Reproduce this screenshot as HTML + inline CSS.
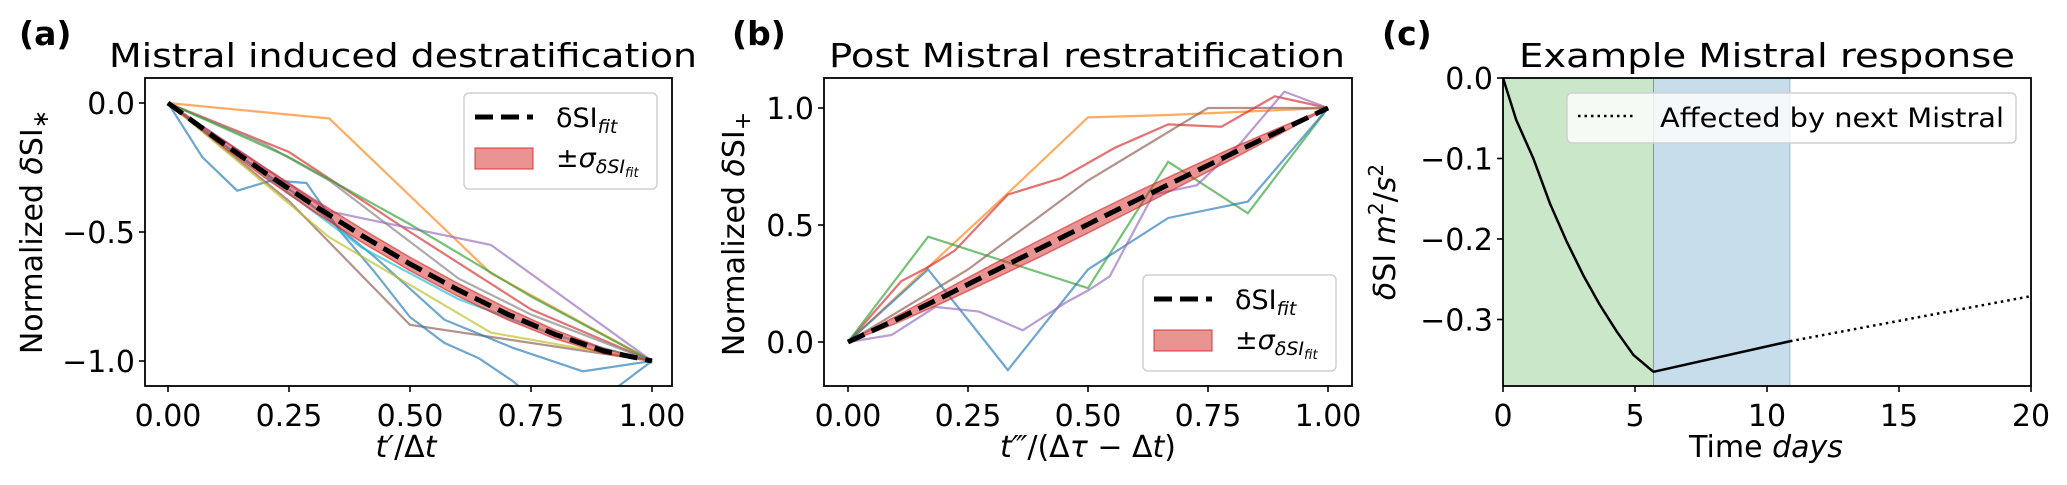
<!DOCTYPE html>
<html><head><meta charset="utf-8"><style>
html,body{margin:0;padding:0;background:#fff;}
svg{display:block;font-family:"DejaVu Sans","Liberation Sans",sans-serif;}
</style></head><body>
<svg id="fig" width="2067" height="485" viewBox="0 0 2067 485" xmlns="http://www.w3.org/2000/svg">
<defs>
<clipPath id="clipA"><rect x="145" y="78" width="527" height="308"/></clipPath>
<clipPath id="clipB"><rect x="824" y="78" width="528" height="308"/></clipPath>
<clipPath id="clipC"><rect x="1503" y="78" width="528" height="308"/></clipPath>
</defs>
<g id="pa"></g>
<g id="pb"></g>
<g id="pc"></g>
</svg>
<script>
// ---- Panel (a) data ----
const aTicksX = [0, 0.25, 0.5, 0.75, 1.0];
const aTickLabelsX = ["0.00", "0.25", "0.50", "0.75", "1.00"];
const aTicksY = [0, -0.5, -1.0];
const aTickLabelsY = ["0.0", "\u22120.5", "\u22121.0"];
const aFitX = [0, 0.1, 0.2, 0.3, 0.4, 0.5, 0.6, 0.7, 0.8, 0.9, 1.0];
const aFitY = [0, -0.138, -0.270, -0.395, -0.513, -0.624, -0.725, -0.817, -0.897, -0.961, -1.0];
const aFitSigma = [0, 0.012, 0.02, 0.024, 0.026, 0.026, 0.025, 0.022, 0.017, 0.01, 0];
const aSeriesColors = ["#ff7f0e", "#d62728", "#8c564b", "#7f7f7f", "#2ca02c", "#9467bd", "#1f77b4", "#1f77b4", "#bcbd22", "#17becf"];
const aSeriesX = [
  [0, 0.333, 0.667, 1],
  [0, 0.25, 0.5, 0.75, 1],
  [0, 0.25, 0.5, 1],
  [0, 0.2, 0.333, 0.6, 0.75, 1],
  [0, 0.25, 0.5, 0.75, 1],
  [0, 0.333, 0.667, 1],
  [0, 0.071, 0.143, 0.214, 0.286, 0.357, 0.429, 0.5, 0.571, 0.643, 0.714, 0.786, 0.857, 0.929, 1],
  [0, 0.143, 0.286, 0.429, 0.571, 0.714, 0.857, 1],
  [0, 0.333, 0.667, 1],
  [0, 0.2, 0.4, 0.6, 0.8, 1]
];
const aSeriesY = [
  [0, -0.06, -0.66, -1],
  [0, -0.19, -0.5, -0.8, -1],
  [0, -0.38, -0.86, -1],
  [0, -0.16, -0.30, -0.68, -0.82, -1],
  [0, -0.21, -0.47, -0.75, -1],
  [0, -0.42, -0.55, -1],
  [0, -0.21, -0.34, -0.30, -0.31, -0.50, -0.66, -0.83, -0.93, -0.99, -1.08, -1.2, -1.22, -1.1, -1],
  [0, -0.20, -0.38, -0.60, -0.84, -0.95, -1.04, -1],
  [0, -0.52, -0.89, -1],
  [0, -0.28, -0.56, -0.76, -0.9, -1]
];

// ---- Panel (b) data ----
const bTicksX = [0, 0.25, 0.5, 0.75, 1.0];
const bTickLabelsX = ["0.00", "0.25", "0.50", "0.75", "1.00"];
const bTicksY = [0, 0.5, 1.0];
const bTickLabelsY = ["0.0", "0.5", "1.0"];
const bFitX = [0, 0.1, 0.2, 0.3, 0.4, 0.5, 0.6, 0.7, 0.8, 0.9, 1.0];
const bFitY = [0, 0.095, 0.195, 0.298, 0.4, 0.503, 0.605, 0.705, 0.805, 0.903, 1.0];
const bFitSigma = [0, 0.015, 0.025, 0.032, 0.036, 0.037, 0.035, 0.03, 0.024, 0.014, 0];
const bSeriesColors = ["#ff7f0e", "#d62728", "#8c564b", "#2ca02c", "#1f77b4", "#9467bd"];
const bSeriesX = [
  [0, 0.167, 0.333, 0.5, 0.667, 0.833, 1],
  [0, 0.111, 0.167, 0.222, 0.333, 0.444, 0.556, 0.667, 0.778, 0.889, 1],
  [0, 0.25, 0.5, 0.75, 1],
  [0, 0.167, 0.5, 0.667, 0.833, 1],
  [0, 0.167, 0.333, 0.5, 0.667, 0.833, 1],
  [0, 0.091, 0.182, 0.273, 0.364, 0.455, 0.5, 0.545, 0.636, 0.727, 0.818, 0.909, 1]
];
const bSeriesY = [
  [0, 0.32, 0.636, 0.96, 0.97, 0.985, 1],
  [0, 0.26, 0.32, 0.39, 0.63, 0.70, 0.83, 0.93, 0.92, 1.05, 1],
  [0, 0.31, 0.69, 1.0, 1],
  [0, 0.45, 0.23, 0.77, 0.55, 1],
  [0, 0.31, -0.12, 0.31, 0.53, 0.60, 1],
  [0, 0.03, 0.15, 0.13, 0.05, 0.17, 0.22, 0.28, 0.63, 0.67, 0.85, 1.07, 1]
];

// ---- Panel (c) data ----
const cTicksX = [0, 5, 10, 15, 20];
const cTickLabelsX = ["0", "5", "10", "15", "20"];
const cTicksY = [0, -0.1, -0.2, -0.3];
const cTickLabelsY = ["0.0", "\u22120.1", "\u22120.2", "\u22120.3"];
const cSolidT = [0, 0.5, 1.15, 1.78, 2.41, 3.04, 3.67, 4.31, 4.94, 5.7, 10.87];
const cSolidV = [0, -0.052, -0.1, -0.156, -0.203, -0.245, -0.282, -0.315, -0.344, -0.365, -0.327];
const cDottedT = [10.87, 20];
const cDottedV = [-0.327, -0.271];
const cSpanGreen = [0, 5.7];
const cSpanBlue = [5.7, 10.87];

// ---- scales ----
const xa = v => 168 + v * 484, ya = v => 103 - v * 258;
const xb = v => 848 + v * 480, yb = v => 342 - v * 234;
const xc = v => 1503 + v * 26.4, yc = v => 78 - v * 805;

const NS = "http://www.w3.org/2000/svg";
function mk(tag, attrs, parent) {
  const e = document.createElementNS(NS, tag);
  for (const k in attrs) e.setAttribute(k, attrs[k]);
  parent.appendChild(e);
  return e;
}
function pts(xs, ys, fx, fy) { return xs.map((x, i) => fx(x).toFixed(2) + "," + fy(ys[i]).toFixed(2)).join(" "); }

function axes(g, L, T, R, B, fx, fy, tx, txl, ty, tyl, name) {
  tx.forEach((t, i) => {
    const X = fx(t);
    const tk = mk("line", {x1: X, x2: X, y1: B, y2: B + 6, stroke: "#000", "stroke-width": 1.6}, g);
    
    
    const lb = mk("text", {x: X, y: B + 40, "font-size": 30, "text-anchor": "middle"}, g);
    lb.textContent = txl[i];
    
    
  });
  ty.forEach((t, i) => {
    const Y = fy(t);
    const tk = mk("line", {x1: L - 6, x2: L, y1: Y, y2: Y, stroke: "#000", "stroke-width": 1.6}, g);
    
    
    const lb = mk("text", {x: L - 10, y: Y + 11, "font-size": 30, "text-anchor": "end"}, g);
    lb.textContent = tyl[i];
    
    
  });
  const fr = mk("rect", {x: L, y: T, width: R - L, height: B - T, fill: "none", stroke: "#000", "stroke-width": 1.8}, g);
  
  
}

function panelFit(g, clip, fx, fy, sx, sy, cols, fitX, fitY, sig, name) {
  const cg = mk("g", {"clip-path": "url(#" + clip + ")"}, g);
  sx.forEach((xs, i) => {
    const pl = mk("polyline", {points: pts(xs, sy[i], fx, fy), fill: "none", stroke: cols[i], "stroke-width": 2.2, "stroke-opacity": 0.65}, cg);
    
    
  });
  const up = fitX.map((x, i) => fx(x).toFixed(2) + "," + fy(fitY[i] + sig[i]).toFixed(2));
  const dn = fitX.map((x, i) => fx(x).toFixed(2) + "," + fy(fitY[i] - sig[i]).toFixed(2)).reverse();
  const band = mk("polygon", {points: up.concat(dn).join(" "), fill: "#d62728", "fill-opacity": 0.5, stroke: "#d62728", "stroke-opacity": 0.6, "stroke-width": 1.5}, cg);
  
  
  const fit = mk("polyline", {points: pts(fitX, fitY, fx, fy), fill: "none", stroke: "#000", "stroke-width": 5, "stroke-dasharray": "18,8"}, cg);
  
  
}

function legendFit(g, x, y, name) {
  const box = mk("rect", {x: x, y: y, width: 193, height: 96, rx: 5, fill: "#fff", "fill-opacity": 0.8, stroke: "#d0d0d0", "stroke-width": 1.5}, g);
  
  
  const l = mk("line", {x1: x + 11, x2: x + 69, y1: y + 24, y2: y + 24, stroke: "#000", "stroke-width": 5, "stroke-dasharray": "18,8"}, g);
  
  
  const t1 = mk("text", {x: x + 92, y: y + 34, "font-size": 27}, g);
  t1.innerHTML = '\u03b4SI<tspan font-size="19" font-style="italic" dy="6">fit</tspan>';
  
  
  const p = mk("rect", {x: x + 11, y: y + 55, width: 58, height: 21, fill: "#d62728", "fill-opacity": 0.5, stroke: "#d62728", "stroke-opacity": 0.6, "stroke-width": 1.5}, g);
  
  
  const t2 = mk("text", {x: x + 92, y: y + 74, "font-size": 27}, g);
  t2.innerHTML = '\u00b1<tspan font-style="italic">\u03c3</tspan><tspan font-size="19" font-style="italic" dy="6">\u03b4SI</tspan><tspan font-size="13" font-style="italic" dy="4">fit</tspan>';
  
  
}

function txt(g, attrs, content, dn, html) {
  const t = mk("text", attrs, g);
  if (html) t.innerHTML = content; else t.textContent = content;
  
  
  return t;
}

// Panel a
const ga = document.getElementById("pa");
panelFit(ga, "clipA", xa, ya, aSeriesX, aSeriesY, aSeriesColors, aFitX, aFitY, aFitSigma, "panel-a");
axes(ga, 145, 78, 672, 386, xa, ya, aTicksX, aTickLabelsX, aTicksY, aTickLabelsY, "panel-a");
legendFit(ga, 464, 93, "panel-a");
txt(ga, {x: 403, y: 67, "font-size": 33, "text-anchor": "middle", textLength: 588, lengthAdjust: "spacingAndGlyphs"}, "Mistral induced destratification", "panel-a-title");
txt(ga, {x: 19, y: 45, "font-size": 33, "font-weight": "bold"}, "(a)", "panel-a-label");
txt(ga, {x: 406, y: 457, "font-size": 30, "text-anchor": "middle", "font-style": "italic"}, 't\u2032<tspan font-style="normal">/\u0394</tspan>t', "panel-a-x-axis-title", true);
txt(ga, {x: 0, y: 0, "font-size": 30, "text-anchor": "middle", transform: "translate(42,232) rotate(-90)"}, 'Normalized <tspan font-style="italic">\u03b4</tspan>SI<tspan font-size="22" dy="6">\u2217</tspan>', "panel-a-y-axis-title", true);

// Panel b
const gb = document.getElementById("pb");
panelFit(gb, "clipB", xb, yb, bSeriesX, bSeriesY, bSeriesColors, bFitX, bFitY, bFitSigma, "panel-b");
axes(gb, 824, 78, 1352, 386, xb, yb, bTicksX, bTickLabelsX, bTicksY, bTickLabelsY, "panel-b");
legendFit(gb, 1143, 275, "panel-b");
txt(gb, {x: 1087, y: 67, "font-size": 33, "text-anchor": "middle", textLength: 516, lengthAdjust: "spacingAndGlyphs"}, "Post Mistral restratification", "panel-b-title");
txt(gb, {x: 732, y: 45, "font-size": 33, "font-weight": "bold"}, "(b)", "panel-b-label");
txt(gb, {x: 1088, y: 457, "font-size": 30, "text-anchor": "middle"}, '<tspan font-style="italic">t\u2034</tspan>/(\u0394<tspan font-style="italic">\u03c4</tspan> \u2212 \u0394<tspan font-style="italic">t</tspan>)', "panel-b-x-axis-title", true);
txt(gb, {x: 0, y: 0, "font-size": 30, "text-anchor": "middle", transform: "translate(744,234) rotate(-90)"}, 'Normalized <tspan font-style="italic">\u03b4</tspan>SI<tspan font-size="22" dy="6">+</tspan>', "panel-b-y-axis-title", true);

// Panel c
const gc = document.getElementById("pc");
const cg = mk("g", {"clip-path": "url(#clipC)"}, gc);
const sg = mk("rect", {x: xc(cSpanGreen[0]), y: 78, width: xc(cSpanGreen[1]) - xc(cSpanGreen[0]), height: 308, fill: "#2ca02c", "fill-opacity": 0.25, stroke: "#2ca02c", "stroke-opacity": 0.4, "stroke-width": 1}, cg);


const sb = mk("rect", {x: xc(cSpanBlue[0]), y: 78, width: xc(cSpanBlue[1]) - xc(cSpanBlue[0]), height: 308, fill: "#1f77b4", "fill-opacity": 0.25, stroke: "#1f77b4", "stroke-opacity": 0.4, "stroke-width": 1}, cg);


const cs = mk("polyline", {points: pts(cSolidT, cSolidV, xc, yc), fill: "none", stroke: "#000", "stroke-width": 2.5, "stroke-linejoin": "round"}, cg);


const cd = mk("polyline", {points: pts(cDottedT, cDottedV, xc, yc), fill: "none", stroke: "#000", "stroke-width": 2.5, "stroke-dasharray": "2.5,4"}, cg);


axes(gc, 1503, 78, 2031, 386, xc, yc, cTicksX, cTickLabelsX, cTicksY, cTickLabelsY, "panel-c");
const lc = mk("rect", {x: 1567, y: 93, width: 449, height: 50, rx: 5, fill: "#fff", "fill-opacity": 0.8, stroke: "#d0d0d0", "stroke-width": 1.5}, gc);


const ls = mk("line", {x1: 1578, x2: 1636, y1: 116, y2: 116, stroke: "#000", "stroke-width": 2.5, "stroke-dasharray": "2.5,4"}, gc);


txt(gc, {x: 1660, y: 127, "font-size": 27, textLength: 344, lengthAdjust: "spacingAndGlyphs"}, "Affected by next Mistral", "panel-c-legend-label");
txt(gc, {x: 1767, y: 67, "font-size": 33, "text-anchor": "middle", textLength: 496, lengthAdjust: "spacingAndGlyphs"}, "Example Mistral response", "panel-c-title");
txt(gc, {x: 1382, y: 45, "font-size": 33, "font-weight": "bold"}, "(c)", "panel-c-label");
txt(gc, {x: 1766, y: 457, "font-size": 30, "text-anchor": "middle"}, 'Time <tspan font-style="italic">days</tspan>', "panel-c-x-axis-title", true);
txt(gc, {x: 0, y: 0, "font-size": 30, "text-anchor": "middle", transform: "translate(1395,232) rotate(-90)"}, '<tspan font-style="italic">\u03b4</tspan>SI <tspan font-style="italic">m</tspan><tspan font-size="20" dy="-12">2</tspan><tspan dy="12">/</tspan><tspan font-style="italic">s</tspan><tspan font-size="20" dy="-12">2</tspan>', "panel-c-y-axis-title", true);
</script>
</body></html>
